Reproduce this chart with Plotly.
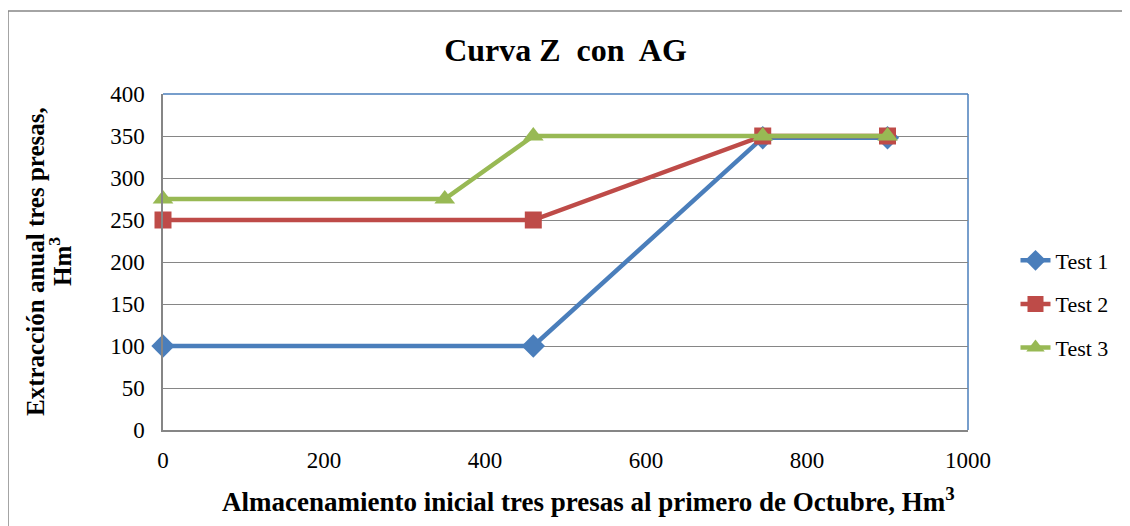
import plotly.graph_objects as go

x_test1 = [0, 460, 745, 900]
y_test1 = [100, 100, 348, 348]
x_test2 = [0, 460, 745, 900]
y_test2 = [250, 250, 350, 350]
x_test3 = [0, 350, 460, 745, 900]
y_test3 = [275, 275, 350, 350, 350]
names = ["Test 1", "Test 2", "Test 3"]
colors = ["#4A7EBB", "#BE4B48", "#98B954"]
symbols = ["diamond", "square", "triangle-up"]

FONT = "Liberation Serif"

fig = go.Figure()
for i, (xs, ys) in enumerate([(x_test1, y_test1), (x_test2, y_test2), (x_test3, y_test3)]):
    fig.add_trace(go.Scatter(
        x=xs, y=ys, mode="lines+markers", name=names[i], legendgroup=names[i],
        line=dict(color=colors[i], width=4.5), cliponaxis=False,
        marker=dict(symbol=symbols[i], size=18 if i != 1 else 17, color=colors[i]),
    ))

fig.update_layout(
    width=1130, height=526,
    margin=dict(l=155, r=170, t=86, b=104),
    paper_bgcolor="white", plot_bgcolor="white",
    font=dict(family=FONT, size=23, color="black"),
    title=dict(text="<b>Curva Z  con  AG</b>", x=0.5, xanchor="center", xref="paper",
               y=0.92, yanchor="middle", font=dict(size=32, family=FONT)),
    showlegend=True,
    legend=dict(x=1.059, y=0.375, xanchor="left", yanchor="middle",
                font=dict(size=22, family=FONT), tracegroupgap=12,
                bgcolor="rgba(0,0,0,0)"),
    xaxis=dict(range=[0, 1000], dtick=200, showgrid=False, zeroline=False,
               showline=True, linecolor="#868686", linewidth=1.5,
               ticks="", tickfont=dict(size=23, family=FONT), ticklabelstandoff=9),
    yaxis=dict(range=[0, 400], dtick=50, showgrid=True, gridcolor="#868686", gridwidth=1.2,
               zeroline=False, showline=True, linecolor="#868686", linewidth=1.5,
               ticks="", tickfont=dict(size=23, family=FONT), ticklabelstandoff=12),
)

# axis titles as annotations
fig.add_annotation(
    text="<b>Almacenamiento inicial tres presas al primero de Octubre, Hm<sup>3</sup></b>",
    xref="paper", yref="paper", x=(588 - 163) / 805, y=(430 - 500) / 336,
    xanchor="center", yanchor="middle", showarrow=False,
    font=dict(size=27, family=FONT),
)
fig.add_annotation(
    text="<b>Extracción anual tres presas,</b>",
    xref="paper", yref="paper", x=(35 - 163) / 805, y=0.5,
    xanchor="center", yanchor="middle", textangle=-90, showarrow=False,
    font=dict(size=25, family=FONT),
)
fig.add_annotation(
    text="<b>Hm<sup>3</sup></b>",
    xref="paper", yref="paper", x=(60 - 163) / 805, y=0.5,
    xanchor="center", yanchor="middle", textangle=-90, showarrow=False,
    font=dict(size=25, family=FONT),
)

# plot area top/right border (blue)
fig.add_shape(type="line", xref="paper", yref="paper", x0=0, x1=1, y0=1, y1=1,
              line=dict(color="#4A7EBB", width=1.5), layer="below")
fig.add_shape(type="line", xref="paper", yref="paper", x0=1, x1=1, y0=0, y1=1,
              line=dict(color="#4A7EBB", width=1.5), layer="below")
# outer chart border
fig.add_shape(type="rect", xref="paper", yref="paper",
              x0=(8 - 163) / 805, x1=(1140 - 163) / 805,
              y0=(430 - 540) / 336, y1=(430 - 11) / 336,
              line=dict(color="#868686", width=1.5), fillcolor="rgba(0,0,0,0)", layer="below")

fig.write_html("out.html")
